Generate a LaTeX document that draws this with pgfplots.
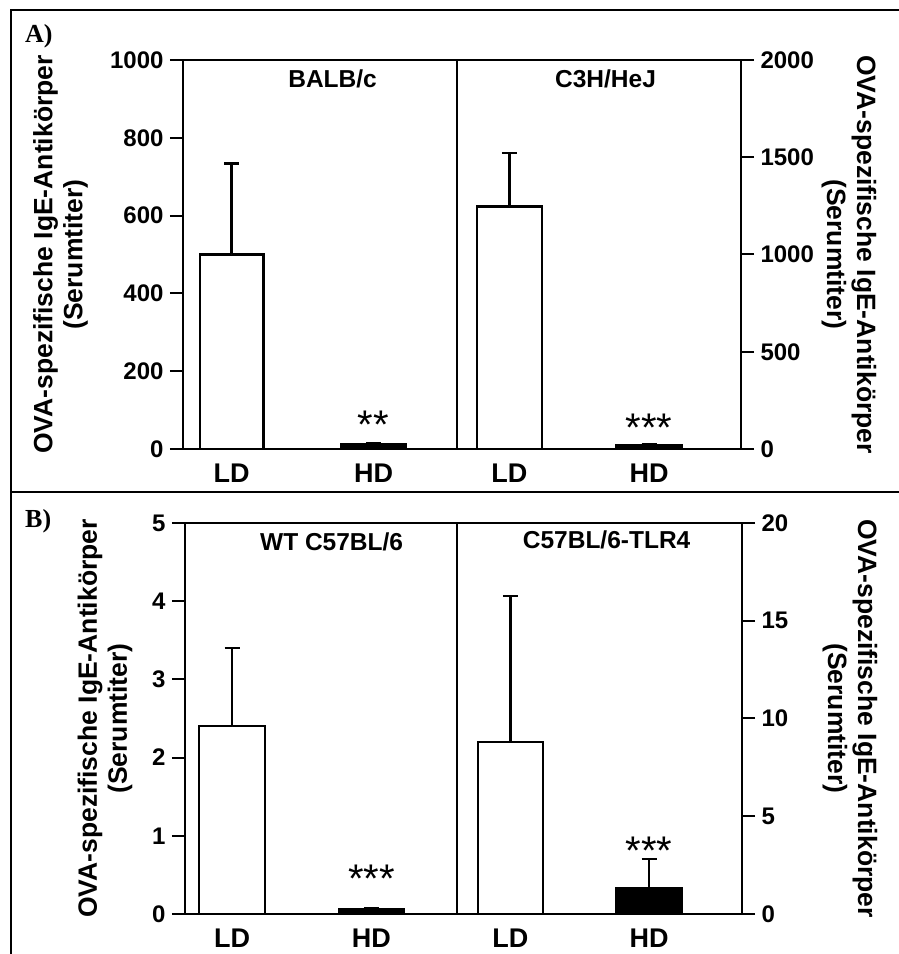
\documentclass[border=0pt]{standalone}
\usepackage{pgfplots}
\pgfplotsset{compat=1.18}
\usepackage{fontspec}
\setmainfont{Liberation Sans}
\newfontfamily\serifb{Liberation Serif}

\pgfplotsset{
  panel/.style={
    scale only axis,
    axis line style={line width=2pt},
    every tick/.style={line width=2pt, black},
    major tick length=13pt,
    tick align=outside,
    xtick={0,1}, xticklabels={LD,HD},
    xtick style={draw=none},
    xticklabel style={font=\fontsize{27}{27}\selectfont\bfseries, yshift=2pt},
    yticklabel style={font=\fontsize{24}{24}\selectfont\bfseries},
    /pgf/number format/assume math mode=true,
    /pgf/number format/1000 sep={},
    scaled y ticks=false,
    ymin=0, clip=false,
    ybar, bar shift=0pt,
  },
  leftp/.style={panel, ytick pos=left, yticklabel style={xshift=-3pt}},
  rightp/.style={panel, ytick pos=right, yticklabel pos=right, yticklabel style={xshift=3pt}},
  openbar/.style={fill=white, draw=black, line width=2.2pt,
    error bars/.cd, y dir=plus, y explicit,
    error bar style={line width=2.2pt},
    error mark options={rotate=90, mark size=7.5pt, line width=2.2pt}},
  fullbar/.style={fill=black, draw=black, line width=2.2pt,
    error bars/.cd, y dir=plus, y explicit,
    error bar style={line width=2.2pt},
    error mark options={rotate=90, mark size=7.5pt, line width=2.2pt}},
}
\tikzset{
  ast/.style={anchor=base, font=\fontsize{40}{40}\selectfont},
  sub/.style={font=\fontsize{24.5}{24.5}\selectfont\bfseries},
  ylab/.style={align=center, font=\fontsize{26.5}{30}\selectfont\bfseries},
}

\begin{document}
\begin{tikzpicture}[x=1pt,y=1pt]
\useasboundingbox (0,0) rectangle (898,954);
% frames
\draw[line width=2pt] (11,944) rectangle (910,462);
\draw[line width=2pt] (11,462) rectangle (910,-20);
\node[anchor=base west, inner sep=0pt, font=\fontsize{26}{26}\serifb\bfseries] at (25,911) {A)};
\node[anchor=base west, inner sep=0pt, font=\fontsize{26}{26}\serifb\bfseries] at (25,426) {B)};

% A left
\begin{axis}[leftp, at={(183pt,505pt)}, anchor=south west, width=274pt, height=389pt,
  xmin=-0.342, xmax=1.588, ymax=1000, ytick={0,200,400,600,800,1000}, bar width=0.45]
\addplot[openbar] coordinates {(0,500) +- (0,234)};
\addplot[fullbar] coordinates {(1,12) +- (0,3)};
\node[ast] at (axis cs:1,28) {**};
\node[sub] at (axis description cs:0.546,0.952) {BALB/c};
\node[ylab, rotate=90] at (axis description cs:-0.447,0.5) {OVA-spezifische IgE-Antikörper\\(Serumtiter)};
\end{axis}

% A right
\begin{axis}[rightp, at={(457pt,505pt)}, anchor=south west, width=284pt, height=389pt,
  xmin=-0.376, xmax=1.659, ymax=2000, ytick={0,500,1000,1500,2000}, bar width=0.466]
\addplot[openbar] coordinates {(0,1247) +- (0,274)};
\addplot[fullbar] coordinates {(1,22) +- (0,5)};
\node[ast] at (axis cs:1,36) {***};
\node[sub] at (axis description cs:0.523,0.952) {C3H/HeJ};
\node[ylab, rotate=-90] at (axis description cs:1.38,0.5) {OVA-spezifische IgE-Antikörper\\(Serumtiter)};
\end{axis}

% B left
\begin{axis}[leftp, at={(185pt,40pt)}, anchor=south west, width=272pt, height=391pt,
  xmin=-0.337, xmax=1.613, ymax=5, ytick={0,1,2,3,4,5}, bar width=0.47]
\addplot[openbar] coordinates {(0,2.4) +- (0,1.0)};
\addplot[fullbar] coordinates {(1,0.06) +- (0,0.02)};
\node[ast] at (axis cs:1,0.27) {***};
\node[sub] at (axis description cs:0.539,0.952) {WT C57BL/6};
\node[ylab, rotate=90] at (axis description cs:-0.294,0.5) {OVA-spezifische IgE-Antikörper\\(Serumtiter)};
\end{axis}

% B right
\begin{axis}[rightp, at={(457pt,40pt)}, anchor=south west, width=285pt, height=391pt,
  xmin=-0.386, xmax=1.671, ymax=20, ytick={0,5,10,15,20}, bar width=0.47]
\addplot[openbar] coordinates {(0,8.8) +- (0,7.45)};
\addplot[fullbar] coordinates {(1,1.35) +- (0,1.45)};
\node[ast] at (axis cs:1,2.52) {***};
\node[sub] at (axis description cs:0.525,0.957) {C57BL/6-TLR4};
\node[ylab, rotate=-90] at (axis description cs:1.379,0.5) {OVA-spezifische IgE-Antikörper\\(Serumtiter)};
\end{axis}
\end{tikzpicture}
\end{document}
